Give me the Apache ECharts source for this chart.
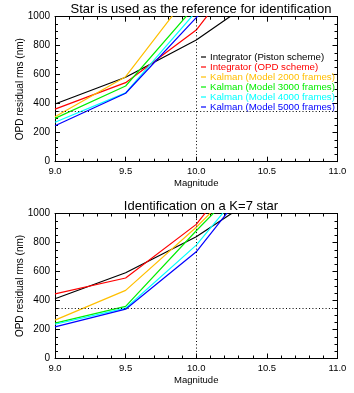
<!DOCTYPE html>
<html><head><meta charset="utf-8">
<script src="https://cdn.jsdelivr.net/npm/echarts@6/dist/echarts.min.js"></script>
<style>html,body{margin:0;padding:0;background:#fff}#c{width:354px;height:393px}</style>
</head><body><div id="c"></div>
<script>
const magnitudes = [9.0, 9.5, 10.0, 10.5];
const seriesNames = ["Integrator (Piston scheme)", "Integrator (OPD scheme)", "Kalman (Model 2000 frames)", "Kalman (Model 3000 frames)", "Kalman (Model 4000 frames)", "Kalman (Model 5000 frames)"];
const seriesColors = ["#000000", "#ff0000", "#ffbf00", "#00ee00", "#00ffff", "#0000ff"];
// Panel 1: star used as the reference for identification
const refPiston = [398, 582, 839, 1177];
const refOPD = [363, 545, 908, 1538];
const refK2000 = [310, 586, 1221];
const refK3000 = [299, 522, 1082];
const refK4000 = [272, 475, 1037];
const refK5000 = [248, 472, 993, 1530];
// Panel 2: identification on a K=7 star
const k7Piston = [412, 591, 840, 1160];
const k7OPD = [446, 555, 925, 1540];
const k7K2000 = [265, 470, 905, 1395];
const k7K3000 = [244, 359, 881, 1377];
const k7K4000 = [236, 347, 782, 1368];
const k7K5000 = [218, 340, 736, 1350];
const xTicks = [9.0, 9.5, 10.0, 10.5, 11.0];
const yTicks = [0, 200, 400, 600, 800, 1000];
const titles = ["Star is used as the reference for identification", "Identification on a K=7 star"];
const refLevel = 350, refMag = 10.0;

const FONT = "Liberation Sans";
const panels = [[refPiston, refOPD, refK2000, refK3000, refK4000, refK5000], [k7Piston, k7OPD, k7K2000, k7K3000, k7K4000, k7K5000]];
const gridTops = [16.7, 213.5];
const grids = gridTops.map(t => ({left: 55, right: 16.5, top: t, height: 145, containLabel: false}));

function xAx(gi, pos) {
  const main = pos === 'bottom';
  return {
    type: 'value', gridIndex: gi, position: pos, min: xTicks[0], max: xTicks[xTicks.length - 1], interval: 0.5,
    name: main ? 'Magnitude' : '', nameLocation: 'middle', nameGap: 17, nameMoveOverlap: false,
    nameTextStyle: {fontFamily: FONT, fontSize: 9.5, color: '#000'},
    axisLine: {show: true, onZero: false, lineStyle: {color: '#000', width: 1}},
    axisTick: {show: true, inside: true, length: 5, lineStyle: {color: '#000'}},
    minorTick: {show: true, splitNumber: 5, length: 3, lineStyle: {color: '#000'}},
    splitLine: {show: false},
    axisLabel: {show: main, fontFamily: FONT, fontSize: 9.5, color: '#000', margin: 5, formatter: v => v.toFixed(1)}
  };
}
function yAx(gi, pos) {
  const main = pos === 'left';
  return {
    type: 'value', gridIndex: gi, position: pos, min: yTicks[0], max: yTicks[yTicks.length - 1], interval: 200,
    name: main ? 'OPD residual rms (nm)' : '', nameLocation: 'middle', nameGap: 30, nameMoveOverlap: false,
    nameTextStyle: {fontFamily: FONT, fontSize: 10, color: '#000'},
    axisLine: {show: true, onZero: false, lineStyle: {color: '#000', width: 1}},
    axisTick: {show: true, inside: true, length: 5, lineStyle: {color: '#000'}},
    minorTick: {show: true, splitNumber: 4, length: 3, lineStyle: {color: '#000'}},
    splitLine: {show: false},
    axisLabel: {show: main, fontFamily: FONT, fontSize: 10, color: '#000', margin: 5, formatter: v => String(v)}
  };
}

const series = [];
panels.forEach((sets, pi) => {
  sets.forEach((vals, si) => {
    const s = {
      type: 'line', name: seriesNames[si], xAxisIndex: pi * 2, yAxisIndex: pi * 2,
      data: vals.map((v, i) => [magnitudes[i], v]),
      symbol: 'none', clip: true, animation: false,
      lineStyle: {color: seriesColors[si], width: 1.2}, itemStyle: {color: seriesColors[si]}
    };
    if (si === 0) {
      s.markLine = {
        silent: true, symbol: 'none', animation: false,
        label: {show: false},
        lineStyle: {color: '#000', type: [1, 2.3], width: 1},
        data: [{yAxis: refLevel}, {xAxis: refMag}]
      };
    }
    series.push(s);
  });
});

const option = {
  backgroundColor: '#fff',
  animation: false,
  title: titles.map((t, i) => ({
    text: t, left: 196, top: [-2, 195][i], textAlign: 'center',
    textStyle: {fontFamily: FONT, fontSize: 13, fontWeight: 'normal', color: '#000'}
  })),
  legend: {
    show: true, orient: 'vertical', left: 196, top: 47, itemGap: 0,
    itemWidth: 5, itemHeight: 1.2, icon: 'rect', selectedMode: false,
    textStyle: {fontFamily: FONT, fontSize: 9.7, lineHeight: 9.7, padding: [0, 0, 0, -1]},
    data: seriesNames.map((n, i) => ({name: n, icon: 'rect', itemStyle: {color: seriesColors[i]}, textStyle: {color: seriesColors[i]}}))
  },
  grid: grids,
  xAxis: [xAx(0, 'bottom'), xAx(0, 'top'), xAx(1, 'bottom'), xAx(1, 'top')],
  yAxis: [yAx(0, 'left'), yAx(0, 'right'), yAx(1, 'left'), yAx(1, 'right')],
  series: series
};
const chart = echarts.init(document.getElementById('c'), null, {renderer: 'canvas'});
chart.setOption(option);
</script></body></html>
